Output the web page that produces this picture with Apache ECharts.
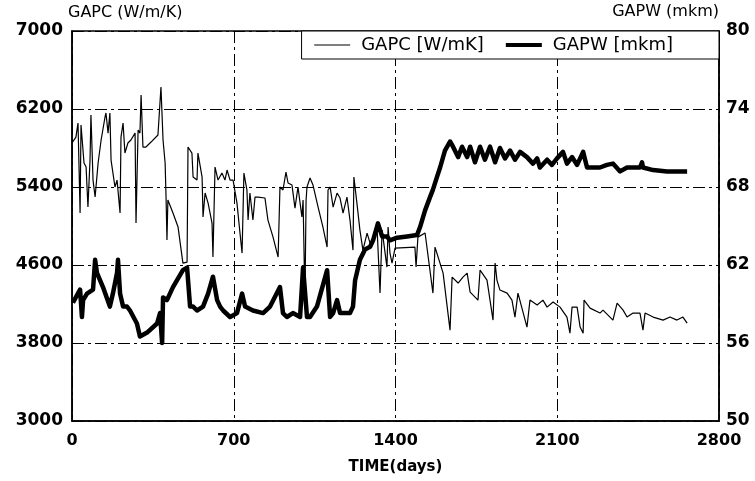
<!DOCTYPE html>
<html><head><meta charset="utf-8">
<script src="https://cdn.jsdelivr.net/npm/echarts@6/dist/echarts.min.js"></script>
<style>html,body{margin:0;padding:0;background:#fff}#c{width:755px;height:481px}</style>
</head><body><div id="c"></div>
<script>
const gapcDays=[0,17,26,35,39,52,61,69,78,82,91,100,113,126,143,147,156,164,169,186,195,208,212,221,229,242,255,273,277,286,294,299,307,320,342,372,385,394,403,407,411,415,437,459,480,498,502,519,524,541,545,563,567,576,589,606,610,619,632,649,662,671,684,697,714,727,736,744,757,762,770,783,792,805,835,848,870,892,900,913,926,935,952,965,978,995,1000,1008,1013,1017,1030,1043,1065,1086,1104,1108,1117,1130,1147,1160,1173,1190,1203,1216,1220,1233,1246,1259,1277,1290,1303,1320,1333,1342,1355,1363,1368,1376,1385,1398,1484,1489,1497,1528,1562,1571,1606,1636,1645,1671,1692,1710,1723,1757,1766,1796,1809,1822,1831,1839,1852,1883,1904,1917,1930,1969,1982,2013,2038,2056,2082,2112,2142,2155,2164,2186,2199,2212,2216,2242,2285,2298,2341,2359,2385,2402,2428,2458,2471,2480,2515,2558,2588,2618,2644,2662];
const gapcVals=[5851,5912,6056,5133,6036,5646,5605,5194,5676,6138,5471,5297,5646,5882,6118,6159,5953,6159,5676,5400,5471,5133,5912,6056,5748,5851,5882,5953,5030,5984,5953,6343,5810,5810,5861,5933,6425,5882,5646,5297,4856,5266,5133,4989,4620,4630,5810,5748,5502,5471,5748,5502,5092,5338,5235,5030,4681,5605,5471,5543,5471,5574,5471,5471,5235,4928,4722,5543,5369,5061,5338,5061,5297,5297,5287,5061,4886,4681,5400,5369,5553,5441,5420,5184,5400,5092,5266,4240,5266,5400,5492,5420,5194,4989,4784,5369,5400,5194,5338,5287,5133,5297,5061,4753,5502,5235,4958,4753,4927,4825,4856,4989,4312,4958,4722,4579,4989,4722,4620,4774,4784,4579,4886,4928,4312,4784,4517,3932,4476,4415,4476,4517,4322,4240,4548,4445,4240,4035,4620,4445,4343,4312,4240,4066,4312,3963,4240,4189,4240,4168,4220,4168,4066,3901,4168,4168,3963,3901,4240,4158,4107,4137,4035,4209,4137,4066,4107,4107,3932,4107,4066,4035,4066,4035,4066,4004];
const gapwDays=[4,35,43,48,65,91,100,108,134,164,177,195,199,208,221,238,251,281,294,325,368,381,390,394,411,437,480,498,511,524,541,567,589,610,628,641,654,684,714,736,749,783,827,857,900,913,930,956,987,1000,1017,1030,1060,1104,1117,1130,1147,1160,1203,1216,1225,1246,1268,1290,1303,1324,1342,1363,1376,1407,1450,1493,1506,1528,1549,1562,1580,1593,1614,1636,1649,1671,1688,1710,1723,1744,1766,1787,1809,1831,1852,1874,1896,1917,1939,1969,1995,2013,2025,2056,2077,2099,2125,2142,2164,2186,2212,2229,2255,2285,2315,2341,2372,2402,2428,2458,2467,2471,2515,2575,2631,2662];
const gapwVals=[59.1,60.1,58.0,59.3,59.8,60.1,62.4,61.4,60.3,58.8,59.8,61.4,62.4,59.8,58.8,58.8,58.5,57.5,56.5,56.8,57.5,58.3,56.0,59.5,59.3,60.3,61.6,61.8,58.8,58.8,58.5,58.8,59.8,61.1,59.3,58.8,58.5,58.0,58.3,59.8,58.8,58.5,58.3,58.8,60.3,58.3,58.0,58.3,58.0,61.8,58.0,58.0,58.8,61.6,58.0,58.3,59.3,58.3,58.3,58.8,60.8,62.4,63.2,63.4,63.9,65.2,64.2,64.2,63.9,64.1,64.2,64.3,64.9,66.2,67.2,67.8,68.8,69.5,70.8,71.5,71.1,70.3,71.1,70.3,71.1,69.9,71.1,70.1,71.1,69.9,71.0,70.2,70.8,70.1,70.7,70.3,69.8,70.2,69.5,70.1,69.7,70.2,70.7,69.8,70.3,69.7,70.7,69.5,69.5,69.5,69.7,69.8,69.2,69.5,69.5,69.5,69.9,69.5,69.3,69.2,69.2,69.2];
const xTicks=[0,700,1400,2100,2800];
const leftTicks=[3000,3800,4600,5400,6200,7000];
const rightTicks=[50,56,62,68,74,80];
const seriesNames=['GAPC [W/mK]','GAPW [mkm]'];

const gapcData=gapcDays.map((d,i)=>[d,gapcVals[i]]);
const gapwData=gapwDays.map((d,i)=>[d,gapwVals[i]]);
const font='DejaVu Sans';
const plain=v=>String(v);
const grid={type:[12,4,3,4],color:'#000',width:1};
const chart=echarts.init(document.getElementById('c'),null,{renderer:'canvas'});
chart.setOption({
  animation:false,
  backgroundColor:'#fff',
  textStyle:{fontFamily:font,color:'#000'},
  grid:{left:72,right:36,top:31,bottom:60,show:true,borderColor:'#000',borderWidth:1.5,backgroundColor:'transparent'},
  legend:{
    right:36,top:31,orient:'horizontal',
    backgroundColor:'#fff',borderColor:'#000',borderWidth:1,borderRadius:0,
    padding:[5,46,5,12],itemGap:20,itemWidth:36,itemHeight:12,
    itemStyle:{color:'rgba(0,0,0,0)',borderColor:'rgba(0,0,0,0)',borderWidth:0},
    textStyle:{fontFamily:font,fontSize:18,color:'#000',padding:[0,0,0,6]},
    data:[
      {name:seriesNames[0],lineStyle:{width:1.2,color:'#000'}},
      {name:seriesNames[1],lineStyle:{width:4,color:'#000'}}
    ]
  },
  xAxis:{
    type:'value',min:0,max:2800,interval:700,
    name:'TIME(days)',nameLocation:'middle',nameGap:39,
    nameTextStyle:{fontFamily:font,fontSize:15,fontWeight:'bold',color:'#000'},
    axisLine:{show:true,lineStyle:{color:'#000',width:1.5}},
    axisTick:{show:false},
    axisLabel:{margin:12,fontFamily:font,fontSize:16,fontWeight:'bold',color:'#000',formatter:plain,
      customValues:xTicks},
    splitLine:{show:true,lineStyle:grid}
  },
  yAxis:[
    {type:'value',min:3000,max:7000,position:'left',
      name:'GAPC (W/m/K)',nameLocation:'end',nameGap:10,
      nameTextStyle:{fontFamily:font,fontSize:16,color:'#000',align:'left',padding:[0,0,0,-4]},
      axisLine:{show:true,lineStyle:{color:'#000',width:1.5}},
      axisTick:{show:false,customValues:leftTicks},
      axisLabel:{margin:9,fontFamily:font,fontSize:17,fontWeight:'bold',color:'#000',formatter:plain,customValues:leftTicks},
      splitLine:{show:true,lineStyle:grid}
    },
    {type:'value',min:50,max:80,position:'right',
      name:'GAPW (mkm)',nameLocation:'end',nameGap:11,
      nameTextStyle:{fontFamily:font,fontSize:16,color:'#000',align:'right',padding:[0,0,0,0]},
      axisLine:{show:true,lineStyle:{color:'#000',width:1.5}},
      axisTick:{show:false,customValues:rightTicks},
      axisLabel:{margin:7,fontFamily:font,fontSize:17,fontWeight:'bold',color:'#000',formatter:plain,customValues:rightTicks},
      splitLine:{show:false}
    }
  ],
  series:[
    {name:seriesNames[0],type:'line',yAxisIndex:0,data:gapcData,symbol:'none',
      lineStyle:{color:'#000',width:1.2},itemStyle:{color:'#000'},z:3},
    {name:seriesNames[1],type:'line',yAxisIndex:1,data:gapwData,symbol:'none',
      lineStyle:{color:'#000',width:4.5,join:'round'},itemStyle:{color:'#000'},z:4}
  ]
});
</script></body></html>
